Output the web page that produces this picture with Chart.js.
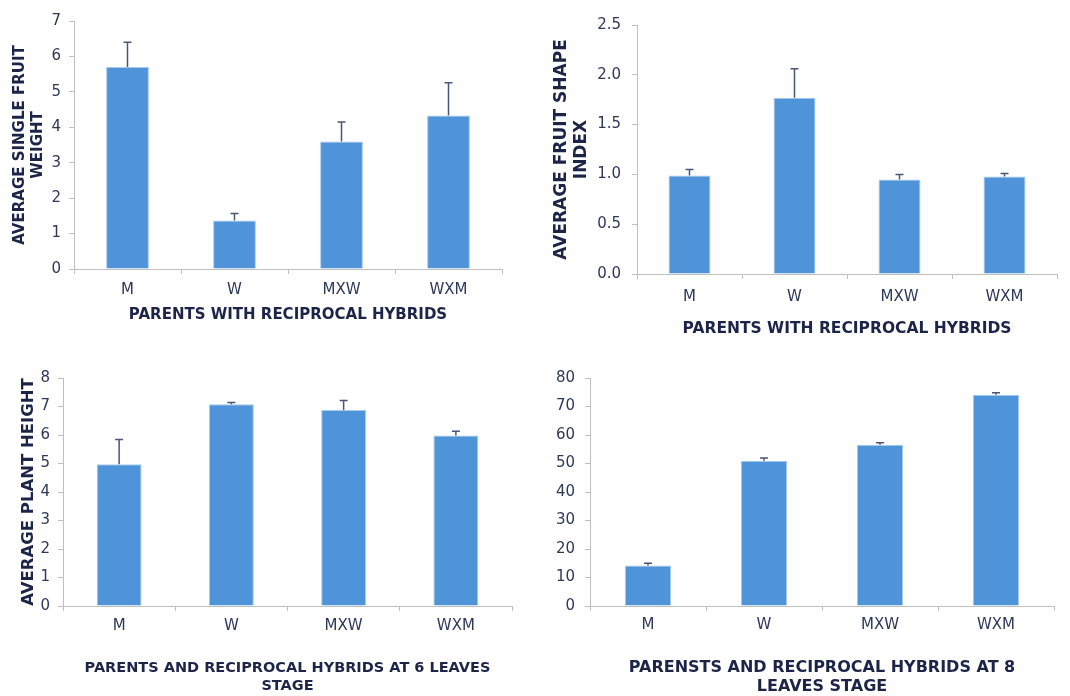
<!DOCTYPE html>
<html>
<head>
<meta charset="utf-8">
<script src="https://cdn.jsdelivr.net/npm/chart.js@4/dist/chart.umd.min.js"></script>
<style>
    body { margin: 0; background: #fff; }
    #wrap { position: relative; width: 1070px; height: 696px; }
    canvas { position: absolute; }
</style>
</head>
<body>
<div id="wrap">
    <canvas id="weight-chart" width="535" height="340" style="left:0;top:0"></canvas>
    <canvas id="shape-chart" width="535" height="340" style="left:535px;top:0"></canvas>
    <canvas id="height6-chart" width="535" height="346" style="left:0;top:350px"></canvas>
    <canvas id="height8-chart" width="535" height="346" style="left:535px;top:350px"></canvas>
</div>
<script>
// 数据
const categories = ['M', 'W', 'MXW', 'WXM'];

const fruitWeight = [5.7, 1.37, 3.6, 4.33];
const fruitWeightErr = [0.7, 0.2, 0.55, 0.93];

const shapeIndex = [0.99, 1.77, 0.95, 0.98];
const shapeIndexErr = [0.06, 0.29, 0.05, 0.03];

const height6 = [4.97, 7.08, 6.88, 5.98];
const height6Err = [0.87, 0.06, 0.33, 0.15];

const height8 = [14.2, 51.0, 56.6, 74.1];
const height8Err = [0.8, 0.9, 0.7, 0.7];

const BAR_COLOR = '#4f93d8';
const AXIS_COLOR = '#bfbfbf';
const TICK_COLOR = '#2e3858';
const TITLE_COLOR = '#1c2448';

// 误差线 (只画上半部分)
const errorBarPlugin = {
    id: 'errorBars',
    afterDatasetsDraw(chart) {
        const ctx = chart.ctx;
        const yScale = chart.scales.y;
        chart.data.datasets.forEach((ds, i) => {
            if (!ds.errors) return;
            const meta = chart.getDatasetMeta(i);
            meta.data.forEach((bar, j) => {
                const top = yScale.getPixelForValue(ds.data[j] + ds.errors[j]);
                ctx.save();
                ctx.strokeStyle = '#4a5675';
                ctx.lineWidth = 1.5;
                ctx.beginPath();
                ctx.moveTo(bar.x, bar.y);
                ctx.lineTo(bar.x, top);
                ctx.moveTo(bar.x - 4, top);
                ctx.lineTo(bar.x + 4, top);
                ctx.stroke();
                ctx.restore();
            });
        });
    }
};

function makeChart(id, cfg) {
    return new Chart(document.getElementById(id), {
        type: 'bar',
        data: {
            labels: categories,
            datasets: [{
                data: cfg.values,
                errors: cfg.errors,
                backgroundColor: BAR_COLOR,
                borderColor: '#a8caee',
                borderWidth: 1,
                barPercentage: 0.4,
                categoryPercentage: 1
            }]
        },
        options: {
            responsive: false,
            animation: false,
            devicePixelRatio: 1,
            layout: { padding: cfg.padding },
            plugins: { legend: { display: false }, tooltip: { enabled: false } },
            scales: {
                x: {
                    afterFit: s => { s.height = cfg.xHeight; },
                    grid: { offset: true, drawOnChartArea: false, color: AXIS_COLOR, tickLength: 5 },
                    border: { color: AXIS_COLOR },
                    ticks: {
                        color: TICK_COLOR, padding: cfg.xTickPad,
                        font: { family: 'DejaVu Sans', size: 15 }
                    },
                    title: {
                        display: true, text: cfg.xTitle, color: TITLE_COLOR,
                        padding: { top: 0, bottom: cfg.xTitlePad },
                        font: { family: 'DejaVu Sans', size: cfg.xTitleSize, weight: 'bold', lineHeight: cfg.xTitleLh }
                    }
                },
                y: {
                    min: 0, max: cfg.max,
                    afterFit: s => { s.width = cfg.yWidth; },
                    grid: { drawOnChartArea: false, color: AXIS_COLOR, tickLength: 5 },
                    border: { color: AXIS_COLOR },
                    ticks: {
                        stepSize: cfg.step, color: TICK_COLOR, padding: cfg.yTickPad,
                        font: { family: 'DejaVu Sans', size: 15 },
                        callback: v => cfg.decimals ? v.toFixed(cfg.decimals) : v
                    },
                    title: {
                        display: !!cfg.yTitle, text: cfg.yTitle, color: TITLE_COLOR,
                        padding: { top: cfg.yTitlePad || 0, bottom: 0 },
                        font: { family: 'DejaVu Sans', size: cfg.yTitleSize || 14, weight: 'bold', lineHeight: cfg.yTitleLh || 1.2 }
                    }
                }
            }
        },
        plugins: [errorBarPlugin]
    });
}

document.addEventListener('DOMContentLoaded', () => {
    makeChart('weight-chart', {
        values: fruitWeight, errors: fruitWeightErr, max: 7, step: 1,
        padding: { left: 0, right: 33, top: 21, bottom: 0 },
        xHeight: 71, yWidth: 74, xTickPad: 7, yTickPad: 8,
        xTitle: 'PARENTS WITH RECIPROCAL HYBRIDS', xTitlePad: 16, xTitleSize: 15, xTitleLh: 1.2,
        yTitle: ['AVERAGE SINGLE FRUIT', 'WEIGHT'], yTitlePad: 11, yTitleSize: 15, yTitleLh: 1.2
    });
    makeChart('shape-chart', {
        values: shapeIndex, errors: shapeIndexErr, max: 2.5, step: 0.5, decimals: 1,
        padding: { left: 0, right: 13, top: 25, bottom: 0 },
        xHeight: 66, yWidth: 102, xTickPad: 9, yTickPad: 11,
        xTitle: 'PARENTS WITH RECIPROCAL HYBRIDS', xTitlePad: 2, xTitleSize: 15.5, xTitleLh: 1.2,
        yTitle: ['AVERAGE FRUIT SHAPE', 'INDEX'], yTitlePad: 17, yTitleSize: 17, yTitleLh: 1.15
    });
    makeChart('height6-chart', {
        values: height6, errors: height6Err, max: 8, step: 1,
        padding: { left: 0, right: 23, top: 28, bottom: 0 },
        xHeight: 90, yWidth: 63, xTickPad: 6, yTickPad: 8,
        xTitle: ['PARENTS AND RECIPROCAL HYBRIDS AT 6 LEAVES', 'STAGE'], xTitlePad: 0, xTitleSize: 14.5, xTitleLh: 1.28,
        yTitle: 'AVERAGE PLANT HEIGHT', yTitlePad: 19, yTitleSize: 16.5
    });
    makeChart('height8-chart', {
        values: height8, errors: height8Err, max: 80, step: 10,
        padding: { left: 0, right: 16, top: 28, bottom: 0 },
        xHeight: 90, yWidth: 55, xTickPad: 5, yTickPad: 10,
        xTitle: ['PARENSTS AND RECIPROCAL HYBRIDS AT 8', 'LEAVES STAGE'], xTitlePad: 0, xTitleSize: 16, xTitleLh: 1.16,
        yTitle: null
    });
});
</script>
</body>
</html>
